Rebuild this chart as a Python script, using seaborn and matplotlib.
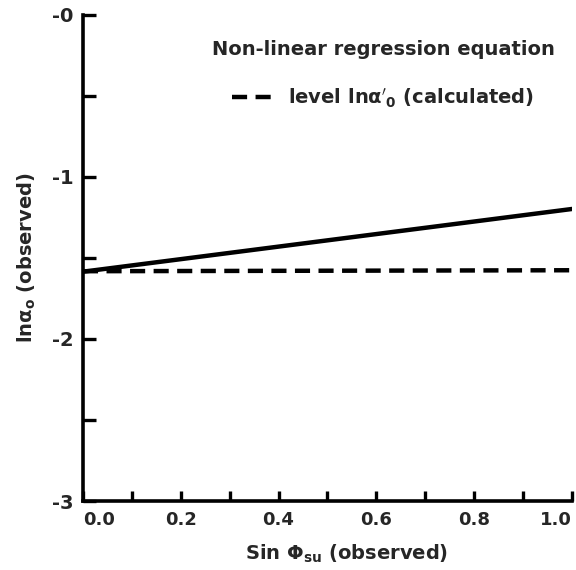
import matplotlib
matplotlib.use("Agg")
import matplotlib.pyplot as plt
import pandas as pd
import seaborn as sns

# --- data ---
sin_phi = [0.0, 1.0]
ln_alpha_regression = [-1.585, -1.198]      # solid: non-linear regression equation
ln_alpha_level = [-1.582, -1.576]           # dashed: level ln a'_0 (calculated)

x_ticks = [0.0, 0.2, 0.4, 0.6, 0.8, 1.0]
x_tick_labels = ["0.0", "0.2", "0.4", "0.6", "0.8", "1.0"]
x_minor = [0.1, 0.3, 0.5, 0.7, 0.9]
y_ticks = [0, -1, -2, -3]
y_tick_labels = ["-0", "-1", "-2", "-3"]
y_minor = [-0.5, -1.5, -2.5]

LEGEND_TITLE = "Non-linear regression equation"
LEVEL_LABEL = r"level ln$\alpha'_{0}$ (calculated)"

sns.set_style("ticks")
plt.rcParams["font.family"] = ["DejaVu Sans"]
plt.rcParams["font.weight"] = "bold"
plt.rcParams["mathtext.default"] = "bf"

df = pd.DataFrame({
    "x": sin_phi + sin_phi,
    "y": ln_alpha_regression + ln_alpha_level,
    "series": ["regression"] * 2 + ["level"] * 2,
})

fig = plt.figure(figsize=(5.76, 5.70), dpi=100)
ax = fig.add_axes([0.144, 0.121, 0.849, 0.853])

sns.lineplot(data=df[df["series"] == "regression"], x="x", y="y",
             color="black", lw=3.2, ax=ax, legend=False)
sns.lineplot(data=df[df["series"] == "level"], x="x", y="y",
             color="black", lw=3.2, ax=ax, legend=False)
ax.lines[1].set_dashes([3.4, 1.9])
ax.lines[1].set_label(LEVEL_LABEL)

ax.set_xlim(0, 1.0)
ax.set_ylim(-3, 0)
ax.set_xticks(x_ticks, x_tick_labels)
ax.set_xticks(x_minor, minor=True)
ax.set_yticks(y_ticks, y_tick_labels)
ax.set_yticks(y_minor, minor=True)

for s in ["top", "right"]:
    ax.spines[s].set_visible(False)
for s in ["left", "bottom"]:
    ax.spines[s].set_linewidth(2.6)
    ax.spines[s].set_color("black")

ax.tick_params(axis="both", which="both", direction="in", width=2.4, color="black",
               labelsize=14, pad=7)
ax.tick_params(axis="y", which="both", length=9)
ax.tick_params(axis="x", which="both", length=7)
ax.tick_params(axis="x", labelsize=13)
for lab in ax.get_xticklabels() + ax.get_yticklabels():
    lab.set_fontweight("bold")
# last x label sits flush with the right edge, as in the reference
ax.get_xticklabels()[-1].set_horizontalalignment("right")
ax.get_xticklabels()[0].set_horizontalalignment("left")

ax.set_xlabel(r"Sin $\Phi_{su}$ (observed)", fontsize=14, fontweight="bold", labelpad=4)
ax.xaxis.set_label_coords(0.54, -0.085)
ax.set_ylabel(r"ln$\alpha_{o}$ (observed)", fontsize=14, fontweight="bold", labelpad=10)

leg = ax.legend(handles=[ax.lines[1]], title=LEGEND_TITLE, loc="upper right",
                frameon=False, fontsize=14, title_fontsize=14, handlelength=2.4,
                handletextpad=0.5, bbox_to_anchor=(1.0, 0.985), labelspacing=0.4)
leg.get_title().set_fontweight("bold")
leg._legend_box.sep = 20
for t in leg.get_texts():
    t.set_fontweight("bold")

fig.savefig("out.png", dpi=100)
